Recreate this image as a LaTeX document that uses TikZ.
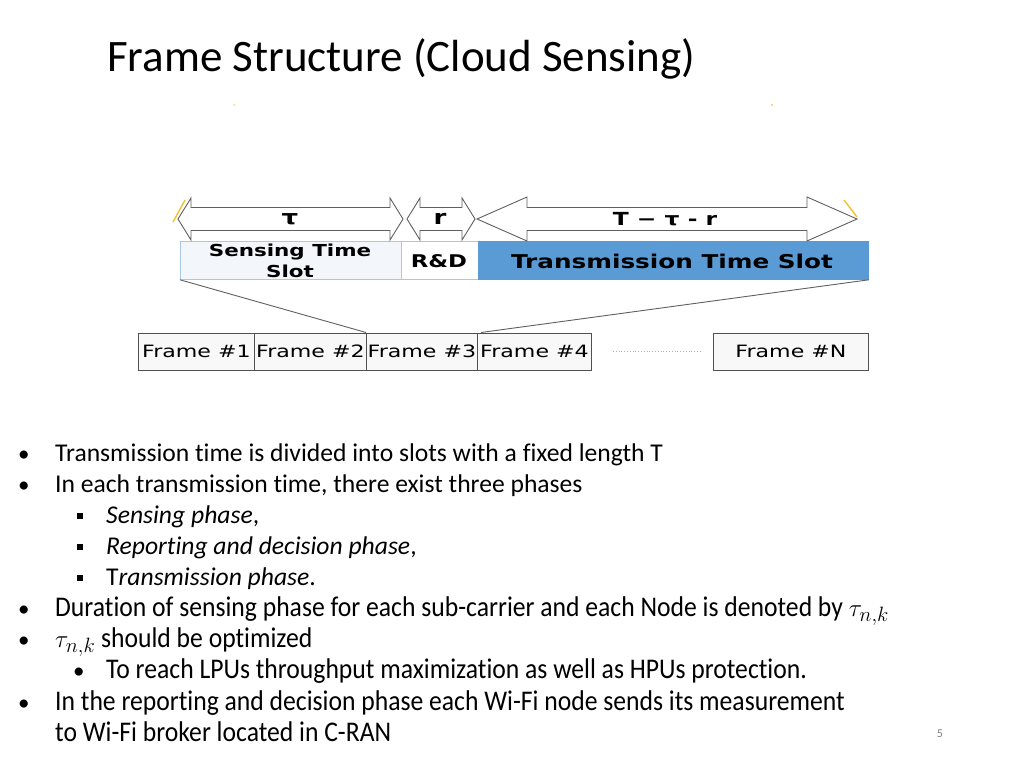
\documentclass[tikz,border=0pt]{standalone}
\usepackage{fontspec}
\setmainfont[Ligatures=NoCommon]{Carlito}
\newfontfamily\cond[FakeStretch=0.9,Ligatures=NoCommon]{Carlito}
\newfontfamily\diag[FakeStretch=1.3]{DejaVu Sans}
\definecolor{sensefill}{HTML}{F3F7FB}
\definecolor{senseline}{HTML}{A9C8E8}
\definecolor{transfill}{HTML}{5B9BD5}
\definecolor{arrline}{HTML}{606060}
\definecolor{frameline}{HTML}{505050}
\definecolor{framefill}{HTML}{F8F8F8}
\definecolor{marky}{HTML}{F2C12E}
\newcommand{\barrow}[5]{%
  \draw[arrowbox] (#1,219) -- (#1+#3,219-#5) -- (#1+#3,219-#4) -- (#2-#3,219-#4) -- (#2-#3,219-#5) -- (#2,219)
   -- (#2-#3,219+#5) -- (#2-#3,219+#4) -- (#1+#3,219+#4) -- (#1+#3,219+#5) -- cycle;}
\tikzset{
  arrowbox/.style={draw=arrline, fill=white, line width=0.9pt, line join=miter},
  slotbox/.style={anchor=north west, minimum height=38, inner sep=0pt, line width=0.8pt},
  slottext/.style={font=\diag\bfseries\fontsize{16.5}{21}\selectfont, align=center, inner sep=0pt},
  framebox/.style={draw=frameline, fill=framefill, anchor=north west, minimum height=37.5, inner sep=0pt, line width=0.9pt, font=\diag\fontsize{17}{18}\selectfont},
  link/.style={draw=arrline, line width=0.9pt},
  dot/.style={anchor=base west, inner sep=0pt, font=\fontsize{23}{28}\selectfont},
  bul/.style={anchor=base west, inner sep=0pt, font=\fontsize{25.6}{31}\selectfont},
  lowbul/.style={anchor=base west, inner sep=0pt, font=\cond\fontsize{28.5}{31}\selectfont},
}
\begin{document}
\begin{tikzpicture}[x=1pt,y=-1pt]
\useasboundingbox[fill=white] (0,0) rectangle (1024,768);
% title
\node[anchor=base west, inner sep=0pt, font=\fontsize{45}{52}\selectfont] (title) at (107,71) {Frame Structure (Cloud Sensing)};
% artefact marks
\fill[marky!60] (234,105) circle (1);
\fill[marky] (772,105) circle (1);
% slot bar
\node[slotbox, draw=senseline, fill=sensefill, minimum width=221] (sense) at (180,241) {};
\node[slotbox, draw=senseline, fill=white, minimum width=77] (rd) at (401,241) {};
\node[slotbox, draw=transfill, fill=transfill, minimum width=390] (trans) at (478,241) {};
\node[slottext] (senset) at (290,260.5) {Sensing Time\\Slot};
\node[slottext, font=\diag\bfseries\fontsize{17.5}{21}\selectfont] (rdt) at (439,261) {R\&D};
\node[slottext, font=\diag\bfseries\fontsize{19}{22}\selectfont] (transt) at (672,261) {Transmission Time Slot};
% block arrows
\barrow{178}{403}{13}{11.5}{21}
\barrow{407}{475}{13}{11.5}{21}
\barrow{477}{857}{50}{11.5}{22}
\node[slottext, font=\diag\bfseries\fontsize{20}{22}\selectfont] (tau) at (290,219) {τ};
\node[slottext, font=\diag\bfseries\fontsize{20}{22}\selectfont] (r) at (440,219) {r};
\node[slottext, font=\diag\bfseries\fontsize{18}{22}\selectfont] (trest) at (665,219) {T − τ - r};
\draw[marky, line width=1.4pt] (173,222) -- (185,200);
\draw[marky, line width=1.4pt] (844,200) -- (857,217);
% frames
\node[framebox, minimum width=116] (f1) at (138,332.5) {Frame \#1};
\node[framebox, minimum width=112] (f2) at (254,332.5) {Frame \#2};
\node[framebox, minimum width=111] (f3) at (366,332.5) {Frame \#3};
\node[framebox, minimum width=114] (f4) at (477,332.5) {Frame \#4};
\node[framebox, minimum width=155] (fN) at (713,332.5) {Frame \#N};
\draw[gray!60, line width=0.8pt, dotted] ([xshift=21]f4.east) -- ([xshift=-11]fN.west);
% connectors
\draw[link] (sense.south west) -- (f3.north west);
\draw[link] (trans.south east) -- ([xshift=4]f4.north west);
% bullets
\node[dot] (b1) at (18,461) {•};
\node[bul] (t1) at (55,461) {Transmission time is divided into slots with a fixed length T};
\node[dot] (b2) at (18,492) {•};
\node[bul] (t2) at (55,492) {In each transmission time, there exist three phases};
\fill (77,513) rectangle (83,519);
\node[bul] (t3) at (106,523) {\itshape Sensing phase\upshape,};
\fill (77,544) rectangle (83,550);
\node[bul] (t4) at (106,554) {\itshape Reporting and decision phase\upshape,};
\fill (77,575) rectangle (83,581);
\node[bul] (t5) at (106,585) {T\itshape ransmission phase\upshape.};
\node[dot] (b6) at (18,616) {•};
\node[lowbul] (t6) at (55,616) {Duration of sensing phase for each sub-carrier and each Node is denoted by $\tau_{n,k}$};
\node[dot] (b7) at (18,647) {•};
\node[lowbul] (t7) at (55,647) {$\tau_{n,k}$ should be optimized};
\node[dot] (b8) at (73,678) {•};
\node[lowbul] (t8) at (106,678) {To reach LPUs throughput maximization as well as HPUs protection.};
\node[dot] (b9) at (18,710) {•};
\node[lowbul] (t9) at (55,710) {In the reporting and decision phase each Wi-Fi node sends its measurement};
\node[lowbul] (t10) at (55,741) {to Wi-Fi broker located in C-RAN};
\node[anchor=base, inner sep=0pt, font=\fontsize{12}{14}\selectfont, text=gray] (pg) at (940,737) {5};
\end{tikzpicture}
\end{document}
